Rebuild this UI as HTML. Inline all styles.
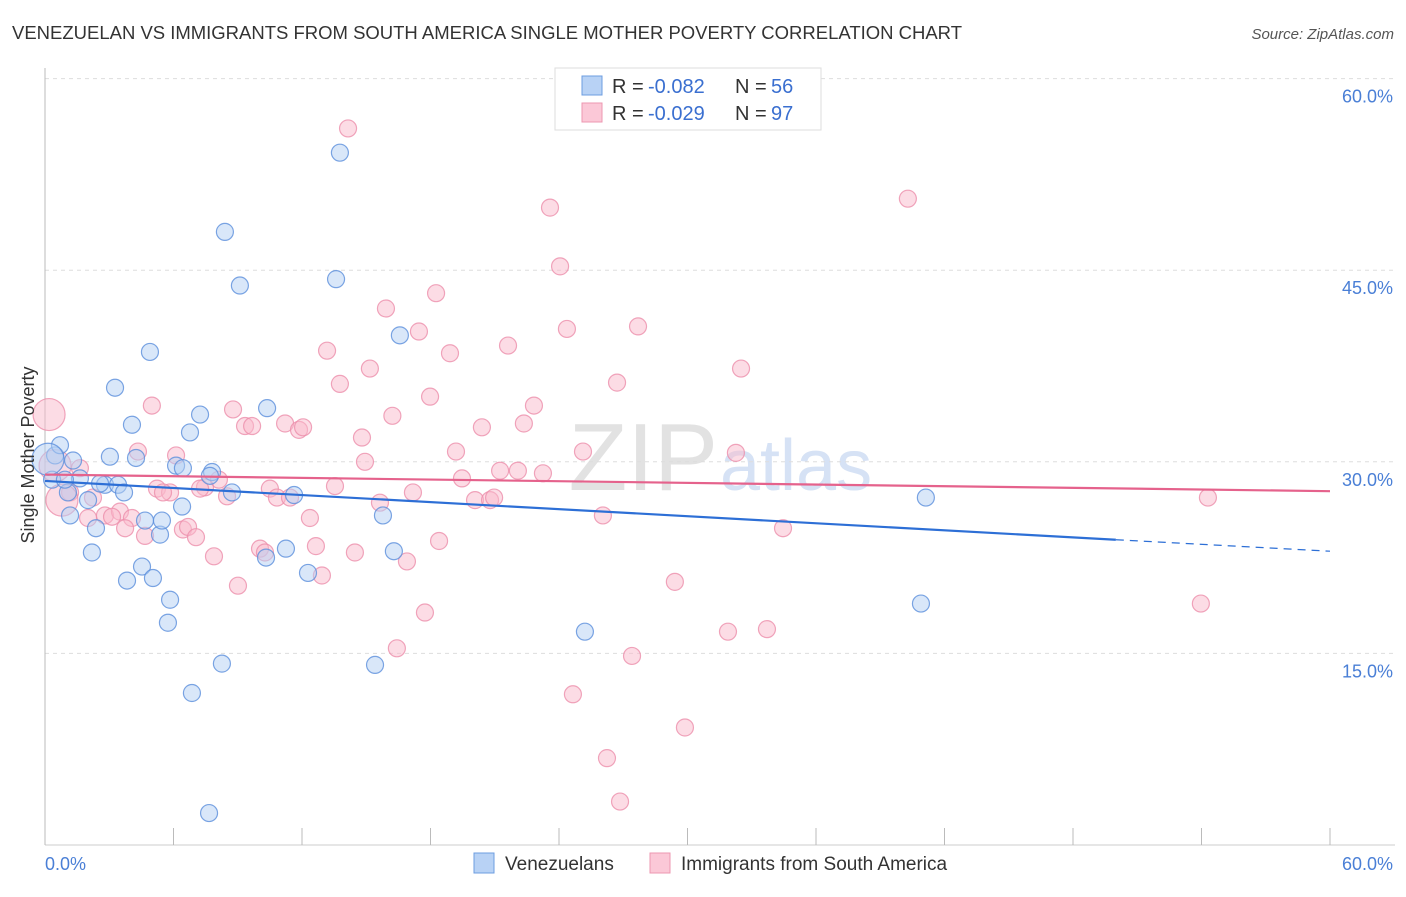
<!DOCTYPE html>
<html><head><meta charset="utf-8"><style>
body{margin:0;background:#fff;font-family:"Liberation Sans",sans-serif;}
svg text{font-family:"Liberation Sans",sans-serif;}
</style></head><body>
<svg width="1406" height="892" xmlns="http://www.w3.org/2000/svg">
<text x="12" y="39" font-size="18.5" fill="#333" textLength="950">VENEZUELAN VS IMMIGRANTS FROM SOUTH AMERICA SINGLE MOTHER POVERTY CORRELATION CHART</text>
<text x="1394" y="39" font-size="15" fill="#555" text-anchor="end" font-style="italic">Source: ZipAtlas.com</text>
<text x="718" y="490" font-size="96" fill="#e2e2e2" text-anchor="end" font-family="Liberation Serif">ZIP</text>
<text x="720" y="490" font-size="72" fill="#d6e2f5">atlas</text>
<g id="grid"></g>
<g id="axes"></g>
<g id="marks"></g>
<text transform="translate(34,455) rotate(-90)" font-size="18" fill="#333" text-anchor="middle">Single Mother Poverty</text>
<text x="45" y="870" font-size="18" fill="#4a7fd6">0.0%</text>
<text x="1393" y="870" font-size="18" fill="#4a7fd6" text-anchor="end">60.0%</text>
<g>
<rect x="555" y="68" width="266" height="62" fill="#fff" stroke="#ddd"/>
<rect x="582" y="76" width="20" height="19" fill="#b8d2f5" stroke="#6c9de0"/>
<rect x="582" y="103" width="20" height="19" fill="#fbc8d7" stroke="#ec97b0"/>
<text x="612" y="93" font-size="20" fill="#333">R = </text>
<text x="648" y="93" font-size="20" fill="#3a6fd0">-0.082</text>
<text x="735" y="93" font-size="20" fill="#333">N = </text>
<text x="771" y="93" font-size="20" fill="#3a6fd0">56</text>
<text x="612" y="120" font-size="20" fill="#333">R = </text>
<text x="648" y="120" font-size="20" fill="#3a6fd0">-0.029</text>
<text x="735" y="120" font-size="20" fill="#333">N = </text>
<text x="771" y="120" font-size="20" fill="#3a6fd0">97</text>
</g>
<g>
<rect x="474" y="853" width="20" height="20" fill="#b8d2f5" stroke="#6c9de0"/>
<text x="505" y="870" font-size="19" fill="#333">Venezuelans</text>
<rect x="650" y="853" width="20" height="20" fill="#fbc8d7" stroke="#ec97b0"/>
<text x="681" y="870" font-size="19" fill="#333">Immigrants from South America</text>
</g>
</svg>
<script>
const yTicks=[15,30,45,60];
const xTickVals=[0,6,12,18,24,30,36,42,48,54,60];
const blueX=[0.47,0.70,0.33,1.31,1.07,1.17,2.19,2.38,2.01,1.63,2.80,3.03,3.41,3.69,3.27,4.06,4.25,4.90,4.67,3.83,4.53,5.04,5.37,5.46,5.84,5.74,6.77,7.24,6.12,6.44,6.40,7.80,7.70,8.73,8.40,9.10,10.37,6.86,8.26,7.66,11.25,10.32,11.63,12.28,13.59,13.77,16.57,15.78,16.29,15.41,25.21,41.13,40.90,0.14,0.93,2.57];
const blueY=[30.5,31.3,28.6,30.1,27.6,25.8,22.9,24.8,27.0,28.7,28.2,30.4,28.2,27.6,35.8,32.9,30.3,38.6,25.4,20.7,21.8,20.9,24.3,25.4,19.2,17.4,32.3,33.7,29.7,29.5,26.5,29.2,28.9,27.6,48.0,43.8,34.2,11.9,14.2,2.5,23.2,22.5,27.4,21.3,44.3,54.2,39.9,25.8,23.0,14.1,16.7,27.2,18.9,30.2,28.6,28.3];
const pinkX=[0.19,0.47,14.15,23.58,40.29,24.05,18.26,15.92,17.46,24.37,27.69,13.17,18.91,21.62,15.17,13.77,26.71,32.50,17.98,4.99,8.78,16.22,22.83,9.34,9.67,11.21,11.86,12.05,14.80,22.36,20.40,19.19,25.12,32.26,4.34,6.12,1.63,14.94,21.25,22.08,23.25,19.47,8.12,7.47,5.23,5.84,5.51,7.24,8.50,10.50,10.83,11.44,13.54,17.18,20.08,20.78,20.97,15.64,54.30,1.17,0.79,2.24,2.80,3.50,2.01,3.13,4.06,3.74,4.67,6.44,6.68,7.05,12.37,26.05,34.46,10.04,10.27,12.65,14.47,18.40,7.89,16.90,12.93,9.01,29.41,17.74,53.97,31.89,33.71,16.43,27.41,24.65,29.88,26.24,26.85];
const pinkY=[33.7,29.7,56.1,49.9,50.6,45.3,43.2,42.0,40.2,40.4,40.6,38.7,38.5,39.1,37.3,36.1,36.2,37.3,35.1,34.4,34.1,33.6,34.4,32.8,32.8,33.0,32.5,32.7,31.9,33.0,32.7,30.8,30.8,30.7,30.8,30.5,29.5,30.0,29.3,29.3,29.1,28.7,28.6,28.0,27.9,27.6,27.6,27.9,27.3,27.9,27.2,27.2,28.1,27.6,27.0,27.0,27.2,26.8,27.2,27.6,27.0,27.2,25.8,26.1,25.6,25.7,25.6,24.8,24.2,24.7,24.9,24.1,25.6,25.8,24.8,23.2,22.9,23.4,22.9,23.8,22.6,22.2,21.1,20.3,20.6,18.2,18.9,16.7,16.9,15.4,14.8,11.8,9.2,6.8,3.4];
const blueBig=[53];
const pinkBig=[0,1,60];
const blueTrend=[28.5,23.9,23.0];
const pinkTrend=[29.0,27.7];
const NS='http://www.w3.org/2000/svg';
const X0=45,X1=1330,Y0=845,YT=78.6;
function sx(v){return X0+(v/60)*(X1-X0);}
function sy(v){return Y0-(v/60)*(Y0-YT);}
function mk(tag,attrs,parent){const e=document.createElementNS(NS,tag);for(const k in attrs)e.setAttribute(k,attrs[k]);document.getElementById(parent).appendChild(e);return e;}
yTicks.forEach(t=>{
  const l=mk('line',{x1:45,x2:1395,y1:sy(t),y2:sy(t),stroke:'#ddd','stroke-dasharray':'4,4'},'grid');
  
  
  const tx=mk('text',{x:1393,y:sy(t)+24,'font-size':18,fill:'#4a7fd6','text-anchor':'end'},'grid');
  tx.textContent=t.toFixed(1)+'%';
  
  
});
const ax=mk('line',{x1:45,x2:45,y1:68,y2:845,stroke:'#bbb'},'axes');


const bx=mk('line',{x1:45,x2:1395,y1:845,y2:845,stroke:'#ccc'},'axes');


xTickVals.forEach(t=>{
  const l=mk('line',{x1:sx(t),x2:sx(t),y1:828,y2:845,stroke:'#bbb'},'axes');
  
  
});
function dots(xs,ys,big,fill,stroke,name){
  xs.forEach((v,i)=>{
    const c=mk('circle',{cx:sx(v),cy:sy(ys[i]),r:big.includes(i)?16:8.5,fill:fill,'fill-opacity':0.5,stroke:stroke,'stroke-opacity':0.8,'stroke-width':1.2},'marks');
    
    
  });
}
dots(pinkX,pinkY,pinkBig,'#f9b9cc','#ec8eab','pink-point');
dots(blueX,blueY,blueBig,'#b3cff3','#5b8fdc','blue-point');
const bt=mk('line',{x1:sx(0),y1:sy(blueTrend[0]),x2:sx(50),y2:sy(blueTrend[1]),stroke:'#2d6fd6','stroke-width':2.2},'marks');


const bd=mk('line',{x1:sx(50),y1:sy(blueTrend[1]),x2:sx(60),y2:sy(blueTrend[2]),stroke:'#2d6fd6','stroke-width':1.2,'stroke-dasharray':'8,6'},'marks');


const pt=mk('line',{x1:sx(0),y1:sy(pinkTrend[0]),x2:sx(60),y2:sy(pinkTrend[1]),stroke:'#e5628c','stroke-width':2.2},'marks');


</script>
</body></html>
